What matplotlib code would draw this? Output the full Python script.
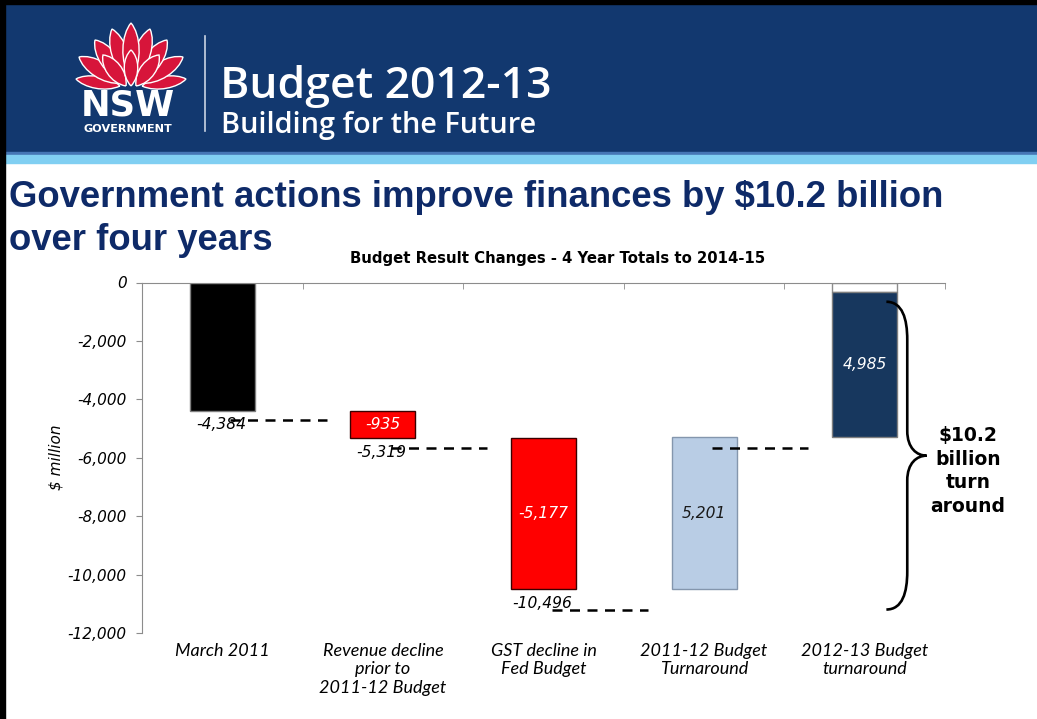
import numpy as np
import matplotlib
matplotlib.use('Agg')
from matplotlib import pyplot as plt
from matplotlib.patches import Rectangle, PathPatch
from matplotlib.path import Path
from matplotlib.ticker import FuncFormatter

categories = ['March 2011',
              'Revenue decline\nprior to\n2011-12 Budget',
              'GST decline in\nFed Budget',
              '2011-12 Budget\nTurnaround',
              '2012-13 Budget\nturnaround']
changes = [-4384, -935, -5177, 5201, 4985]   # $ million
yticks = [0, -2000, -4000, -6000, -8000, -10000, -12000]

bar_colors = ['#000000', '#ff0000', '#ff0000', '#b9cde5', '#17375e']
edge_colors = ['#7f7f7f', '#3a0000', '#3a0000', '#8496ad', '#7f7f7f']
label_colors = [None, 'white', 'white', '#1a1a1a', 'white']
conn_drop = [330, 350, 700, 360]     # connector lines sit a little under the step

cum = np.cumsum(changes)
starts = np.concatenate([[0], cum[:-1]])
x = np.arange(len(categories))

fig = plt.figure(figsize=(10.37, 7.19), dpi=100)

# slide background / banner, in pixel coordinates
hdr = fig.add_axes([0, 0, 1, 1])
hdr.set_xlim(0, 1037)
hdr.set_ylim(719, 0)
hdr.axis('off')
hdr.add_patch(Rectangle((0, 0), 1037, 155, color='#12386f'))
hdr.add_patch(Rectangle((0, 152), 1037, 2.5, color='#4576b5'))
hdr.add_patch(Rectangle((0, 154.5), 1037, 8.5, color='#80cff2'))
hdr.add_patch(Rectangle((0, 0), 1037, 4, color='black'))
hdr.add_patch(Rectangle((0, 0), 5, 719, color='black'))


def petal(base, tip, w):
    bx, by = base
    tx, ty = tip
    dx, dy = tx - bx, ty - by
    ln = np.hypot(dx, dy)
    nx, ny = -dy / ln, dx / ln
    pts = [base,
           (bx + dx * .3 + nx * w, by + dy * .3 + ny * w),
           (bx + dx * .8 + nx * w * .8, by + dy * .8 + ny * w * .8),
           tip,
           (bx + dx * .8 - nx * w * .8, by + dy * .8 - ny * w * .8),
           (bx + dx * .3 - nx * w, by + dy * .3 - ny * w),
           base]
    codes = [Path.MOVETO] + [Path.CURVE4] * 6
    hdr.add_patch(PathPatch(Path(pts, codes), facecolor='#d7153a',
                            edgecolor='white', lw=1.0))


# waratah
for base, tip, w in [((120, 86), (76, 79), 9), ((142, 86), (186, 79), 9),
                     ((122, 83), (79, 57), 12), ((140, 83), (183, 57), 12),
                     ((124, 81), (95, 40), 13), ((138, 81), (167, 40), 13),
                     ((128, 79), (112, 29), 12), ((134, 79), (150, 29), 12),
                     ((131, 79), (131, 23), 12),
                     ((126, 86), (103, 55), 11), ((136, 86), (159, 55), 11),
                     ((131, 86), (131, 50), 10)]:
    petal(base, tip, w)

hdr.text(128, 116, 'NSW', ha='center', va='baseline', color='white',
         fontsize=25.5, fontweight='bold', family='DejaVu Sans')
hdr.text(128, 132, 'GOVERNMENT', ha='center', va='baseline', color='white',
         fontsize=8.1, fontweight='bold', family='DejaVu Sans')
hdr.plot([205, 205], [36, 131], color='#c9d3e3', lw=1.2)
hdr.text(220, 98, 'Budget 2012-13', va='baseline', color='white',
         fontsize=32, fontweight='semibold', family='Open Sans')
hdr.text(221, 133, 'Building for the Future', va='baseline', color='white',
         fontsize=20.8, fontweight='semibold', family='Open Sans')

hdr.text(9, 207, 'Government actions improve finances by $10.2 billion',
         va='baseline', color='#0e2a68', fontsize=26.3, fontweight='bold',
         family='Liberation Sans')
hdr.text(9, 250, 'over four years', va='baseline', color='#0e2a68',
         fontsize=26.3, fontweight='bold', family='Liberation Sans')
hdr.text(558, 258, 'Budget Result Changes - 4 Year Totals to 2014-15',
         ha='center', va='center', fontsize=10.7, fontweight='bold',
         family='DejaVu Sans')

# waterfall
ax = fig.add_axes([142 / 1037, 1 - 633 / 719, 803 / 1037, 350.5 / 719],
                  zorder=2)
ax.set_facecolor('none')
ax.set_xlim(-0.5, len(categories) - 0.5)
ax.set_ylim(min(yticks), max(yticks))

bw = 0.405
ax.bar(x[-1], cum[-1], width=bw, color='white', edgecolor='#8c8c8c',
       linewidth=1, zorder=2)
ax.bar(x, changes, bottom=starts, width=bw, color=bar_colors,
       edgecolor=edge_colors, linewidth=1, zorder=2)

for i in range(len(changes) - 1):
    lvl = cum[i] - conn_drop[i]
    ax.plot([x[i] + 0.05, x[i] + 0.65], [lvl, lvl], color='black', lw=1.8,
            dashes=(4, 3), zorder=3)

for i in range(1, len(changes)):
    ax.text(x[i], starts[i] + changes[i] / 2, '{:,}'.format(changes[i]),
            ha='center', va='center', color=label_colors[i],
            fontsize=11.2, style='italic', zorder=4)

for i in range(3):
    ax.annotate('{:,}'.format(cum[i]), (x[i], cum[i]), xytext=(-1, -5),
                textcoords='offset points', ha='center', va='top',
                fontsize=11.2, style='italic', zorder=4)

# brace on the right
ytop = cum[-1] - 350
ybot = cum.min() - 700
ymid = (ytop + ybot) / 2
x0, xs, xt = 4.135, 4.265, 4.385
r1, r2 = 1300, 850
verts = [(x0, ytop),
         (xs - 0.03, ytop), (xs, ytop - 0.45 * r1), (xs, ytop - r1),
         (xs, ymid + r2),
         (xs, ymid + 0.3 * r2), (xs + 0.5 * (xt - xs), ymid), (xt, ymid),
         (xs + 0.5 * (xt - xs), ymid), (xs, ymid - 0.3 * r2), (xs, ymid - r2),
         (xs, ybot + r1),
         (xs, ybot + 0.45 * r1), (xs - 0.03, ybot), (x0, ybot)]
codes = ([Path.MOVETO] + [Path.CURVE4] * 3 + [Path.LINETO] +
         [Path.CURVE4] * 6 + [Path.LINETO] + [Path.CURVE4] * 3)
ax.add_patch(PathPatch(Path(verts, codes), fill=False, lw=1.9,
                       edgecolor='black', clip_on=False, zorder=4))
ax.text(4.643, ymid - 530, '$10.2\nbillion\nturn\naround', ha='center',
        va='center', fontsize=13.5, fontweight='bold', linespacing=1.3,
        clip_on=False)

for side in ['bottom', 'right']:
    ax.spines[side].set_visible(False)
for side in ['top', 'left']:
    ax.spines[side].set_color('#8c8c8c')

ax.set_yticks(yticks)
ax.yaxis.set_major_formatter(FuncFormatter(lambda v, p: '{:,}'.format(int(v))))
ax.tick_params(axis='y', length=4, color='#8c8c8c', pad=7, labelsize=11)
for lbl in ax.get_yticklabels():
    lbl.set_fontstyle('italic')

ax.set_xticks(x)
ax.set_xticklabels(categories, fontsize=13, style='italic', family='Lato',
                   linespacing=1.2)
ax.tick_params(axis='x', which='major', length=0, pad=7)
ax.set_xticks(np.arange(0.5, len(categories), 1), minor=True)
ax.tick_params(axis='x', which='minor', bottom=False, top=True,
               direction='in', length=4, color='#8c8c8c')

ax.set_ylabel('$ million', fontsize=11, style='italic')
ax.yaxis.set_label_coords(-0.098, 0.5)

fig.savefig('out.png', dpi=100)
